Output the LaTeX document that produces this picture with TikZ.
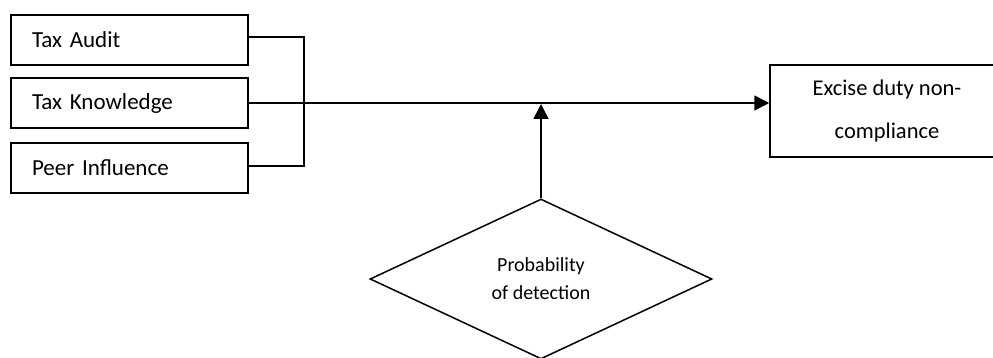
\documentclass[tikz,border=0pt]{standalone}
\usepackage{fontspec}
\setmainfont{Carlito}
\usetikzlibrary{shapes.geometric,arrows.meta}
\begin{document}
\begin{tikzpicture}[x=1pt,y=-1pt,
  inbox/.style={draw,line width=1.5pt,minimum width=237pt,minimum height=50pt,
    text width=195pt,align=left,inner sep=0pt,font=\fontsize{23}{28}\selectfont},
  conn/.style={line width=1.5pt},
  arr/.style={conn,-{Triangle[length=15pt,width=15pt]}}]
\useasboundingbox (0,0) rectangle (993,358);
\begin{scope}
\clip (0,0) rectangle (993,358);
\node[inbox] (ta) at (129.5,40) {Tax Audit};
\node[inbox] (tk) at (129.5,103) {Tax Knowledge};
\node[inbox] (pi) at (129.5,168) {Peer Influence};
\node[draw,line width=1.5pt,minimum width=234pt,minimum height=92pt,inner sep=0pt,
  align=center,font=\fontsize{22.5}{43}\selectfont] (ex) at (887,111) {Excise duty non-\\compliance};
\node[diamond,draw,line width=1.5pt,minimum width=342pt,minimum height=160pt,inner sep=0pt,
  align=center,font=\fontsize{20}{28}\selectfont] (pd) at (541,279) {Probability\\of detection};
\coordinate (m) at (541,103);
\draw[conn] ([yshift=3pt]ta.east) -- (304,37) |- ([yshift=2pt]pi.east);
\draw[arr] (tk.east) -- (tk.east -| ex.west);
\draw[arr] (pd.north) -- ([yshift=-1pt]m);
\end{scope}
\end{tikzpicture}
\end{document}
